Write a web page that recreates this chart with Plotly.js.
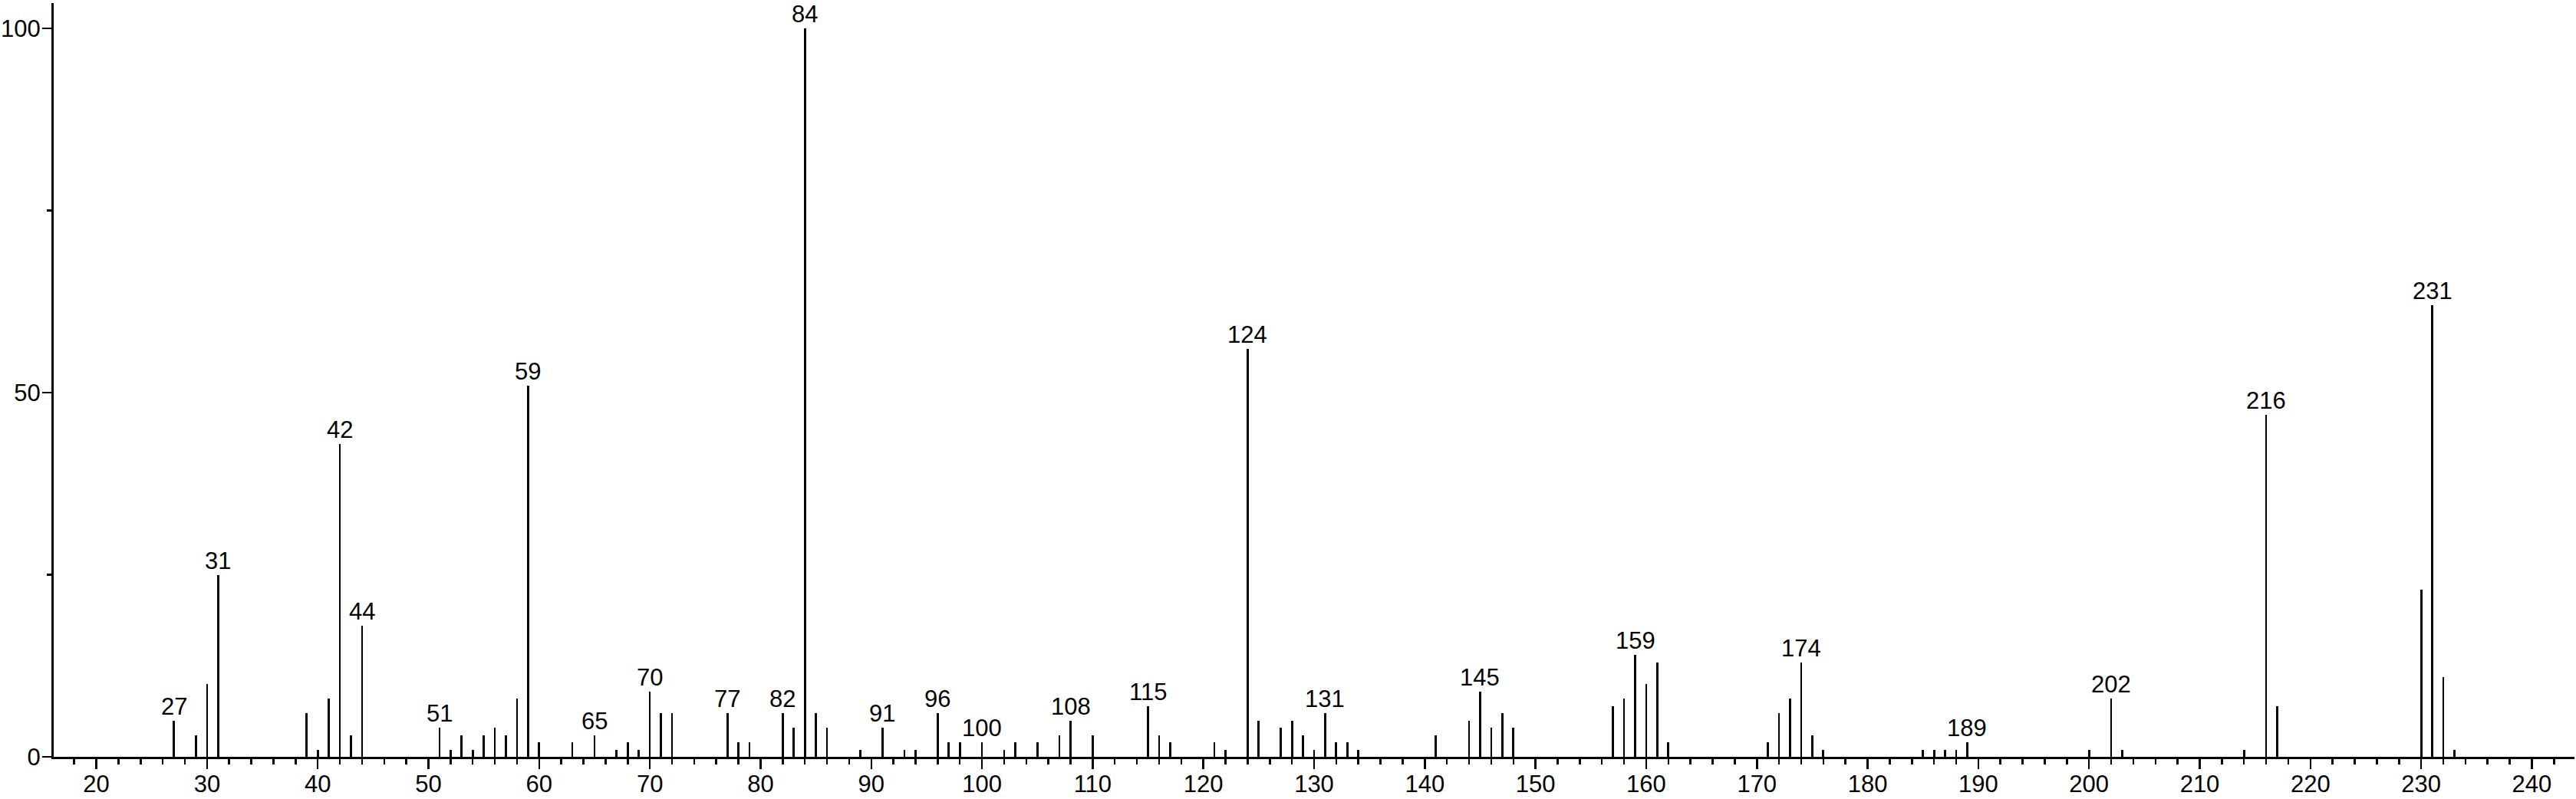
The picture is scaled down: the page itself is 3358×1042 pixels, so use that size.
<!DOCTYPE html>
<html>
<head>
<meta charset="utf-8">
<script src="https://cdn.plot.ly/plotly-3.0.1.min.js"></script>
<style>
  html, body { margin: 0; padding: 0; background: #ffffff; }
  #chart { width: 3358px; height: 1042px; }
</style>
</head>
<body>
<div id="chart"></div>
<script>
// m/z values of the peaks
const mz = [27, 29, 30, 31, 39, 40, 41, 42, 43, 44,
            51, 52, 53, 54, 55, 56, 57, 58, 59, 60,
            63, 65, 67, 68, 69, 70, 71, 72, 77, 78,
            79, 82, 83, 84, 85, 86, 89, 91, 93, 94,
            96, 97, 98, 100, 102, 103, 105, 107, 108, 110,
            115, 116, 117, 121, 122, 124, 125, 127, 128, 129,
            130, 131, 132, 133, 134, 141, 144, 145, 146, 147,
            148, 157, 158, 159, 160, 161, 162, 171, 172, 173,
            174, 175, 176, 185, 186, 187, 188, 189, 200, 202,
            203, 214, 216, 217, 230, 231, 232, 233];
// relative intensities (%)
const intensity = [5, 3, 10, 25, 6, 1, 8, 43, 3, 18,
                   4, 1, 3, 1, 3, 4, 3, 8, 51, 2,
                   2, 3, 1, 2, 1, 9, 6, 6, 6, 2,
                   2, 6, 4, 100, 6, 4, 1, 4, 1, 1,
                   6, 2, 2, 2, 1, 2, 2, 3, 5, 3,
                   7, 3, 2, 2, 1, 56, 5, 4, 5, 3,
                   1, 6, 2, 2, 1, 3, 5, 9, 4, 6,
                   4, 7, 8, 14, 10, 13, 2, 2, 6, 8,
                   13, 3, 1, 1, 1, 1, 1, 2, 1, 8,
                   1, 1, 47, 7, 23, 62, 11, 1];
// peaks that carry a text label
const labelledPeaks = [27, 31, 42, 44, 51, 59, 65, 70, 77, 82, 84, 91, 96, 100,
                       108, 115, 124, 131, 145, 159, 174, 189, 202, 216, 231];
// axis ticks
const xTickStep = 10;
const xMinorStep = 2;
const yTickVals = [0, 50, 100];
const yTickText = ['0', '50', '100'];
const yMinorStep = 25;

const FONT = 'Liberation Sans, Arial, Helvetica, sans-serif';

const trace = {
  type: 'bar',
  x: mz,
  y: intensity,
  width: 0.19,
  marker: { color: '#000000', line: { width: 0 } },
  hoverinfo: 'skip'
};

const annotations = labelledPeaks.map(m => ({
  x: m,
  y: intensity[mz.indexOf(m)],
  xref: 'x', yref: 'y',
  text: String(m),
  showarrow: false,
  xanchor: 'center',
  yanchor: 'bottom',
  yshift: 0,
  borderpad: 0,
  font: { family: FONT, size: 31, color: '#000000' }
}));

const layout = {
  width: 3358,
  height: 1042,
  margin: { l: 70, r: 2, t: 4, b: 55 },
  paper_bgcolor: '#ffffff',
  plot_bgcolor: '#ffffff',
  showlegend: false,
  hovermode: false,
  bargap: 0,
  font: { family: FONT, size: 31, color: '#000000' },
  xaxis: {
    range: [16.15, 243.85],
    dtick: xTickStep,
    tick0: 0,
    ticks: 'outside',
    ticklen: 13,
    tickwidth: 2.5,
    tickcolor: '#000000',
    ticklabelstandoff: -7,
    showline: true,
    linecolor: '#000000',
    linewidth: 3,
    showgrid: false,
    zeroline: false,
    tickfont: { family: FONT, size: 31, color: '#000000' },
    minor: { dtick: xMinorStep, tick0: 0, ticks: 'outside', ticklen: 7, tickwidth: 2.5, tickcolor: '#000000', showgrid: false }
  },
  yaxis: {
    range: [0, 103.5],
    tickmode: 'array',
    tickvals: yTickVals,
    ticktext: yTickText,
    ticks: 'outside',
    ticklen: 12,
    tickwidth: 2.5,
    tickcolor: '#000000',
    ticklabelstandoff: -4,
    showline: true,
    linecolor: '#000000',
    linewidth: 3,
    showgrid: false,
    zeroline: false,
    tickfont: { family: FONT, size: 31, color: '#000000' },
    minor: { dtick: yMinorStep, tick0: 0, ticks: 'outside', ticklen: 6, tickwidth: 2.5, tickcolor: '#000000', showgrid: false }
  },
  annotations: annotations
};

Plotly.newPlot('chart', [trace], layout, { staticPlot: true, displayModeBar: false });
</script>
</body>
</html>
